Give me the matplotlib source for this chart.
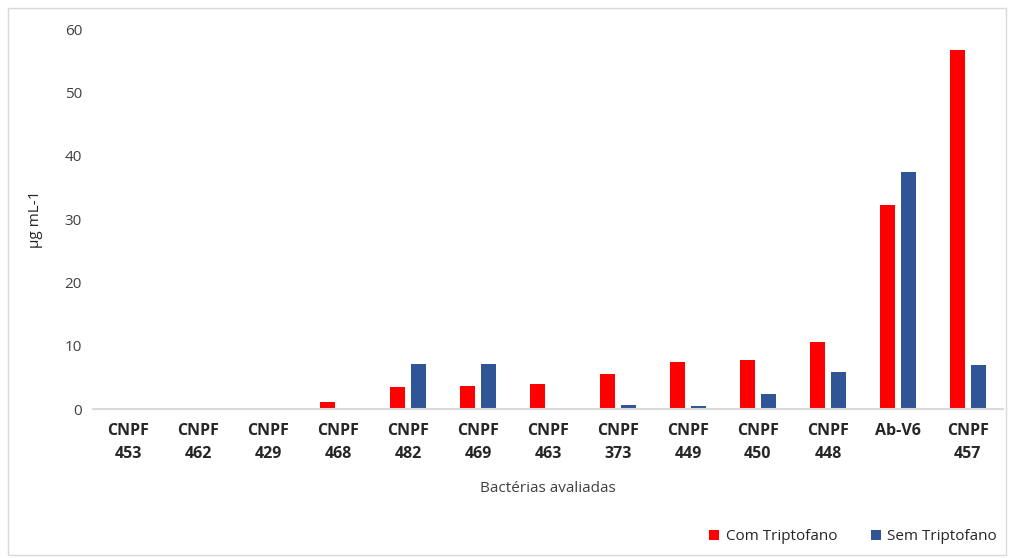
import numpy as np
import matplotlib.pyplot as plt
from matplotlib.patches import Rectangle

plt.rcParams['font.family'] = ['Open Sans', 'DejaVu Sans']

categories = ['CNPF\n453', 'CNPF\n462', 'CNPF\n429', 'CNPF\n468', 'CNPF\n482', 'CNPF\n469',
              'CNPF\n463', 'CNPF\n373', 'CNPF\n449', 'CNPF\n450', 'CNPF\n448', 'Ab-V6', 'CNPF\n457']
com_tript = [0, 0, 0, 1.1, 3.5, 3.6, 3.9, 5.5, 7.4, 7.7, 10.6, 32.2, 56.7]
sem_tript = [0, 0, 0, 0, 7.1, 7.1, 0, 0.6, 0.5, 2.4, 5.8, 37.4, 6.9]
yticks = [0, 10, 20, 30, 40, 50, 60]

fig = plt.figure(figsize=(10.13, 5.58), dpi=100)
ax = fig.add_axes([0.092, 0.267, 0.898, 0.681])

x = np.arange(len(categories))
w = 0.215
ax.bar(x - 0.145, com_tript, w, color='#ff0000', label='Com Triptofano')
ax.bar(x + 0.145, sem_tript, w, color='#2f5597', label='Sem Triptofano')

ax.set_xlim(-0.5, len(categories) - 0.5)
ax.set_ylim(0, 60)
ax.set_yticks(yticks)
ax.set_xticks(x)
ax.set_xticklabels(categories, fontweight='bold', fontsize=11.5, linespacing=1.55)
ax.tick_params(axis='both', length=0, labelsize=11, labelcolor='#404040')
ax.tick_params(axis='y', pad=8)
ax.tick_params(axis='x', pad=10)
for lab in ax.get_xticklabels():
    lab.set_color('#262626')
    lab.set_fontsize(11.5)
for s in ['top', 'right', 'left']:
    ax.spines[s].set_visible(False)
ax.spines['bottom'].set_color('#d9d9d9')
ax.spines['bottom'].set_linewidth(1.5)

ax.set_ylabel('µg mL-1', fontsize=11, color='#262626')
ax.yaxis.set_label_coords(-0.055, 0.5)
ax.set_xlabel('Bactérias avaliadas', fontsize=11, color='#404040')
ax.xaxis.set_label_coords(0.5, -0.19)

fig.legend(loc='center right', bbox_to_anchor=(0.998, 0.038), ncol=2, frameon=False,
           fontsize=11, handlelength=0.7, handleheight=0.7, handletextpad=0.4,
           columnspacing=2.2, labelcolor='#262626')

fig.patches.append(Rectangle((0.008, 0.005), 0.985, 0.98, transform=fig.transFigure,
                             fill=False, edgecolor='#d9d9d9', linewidth=1))

fig.savefig('out.png', dpi=100)
